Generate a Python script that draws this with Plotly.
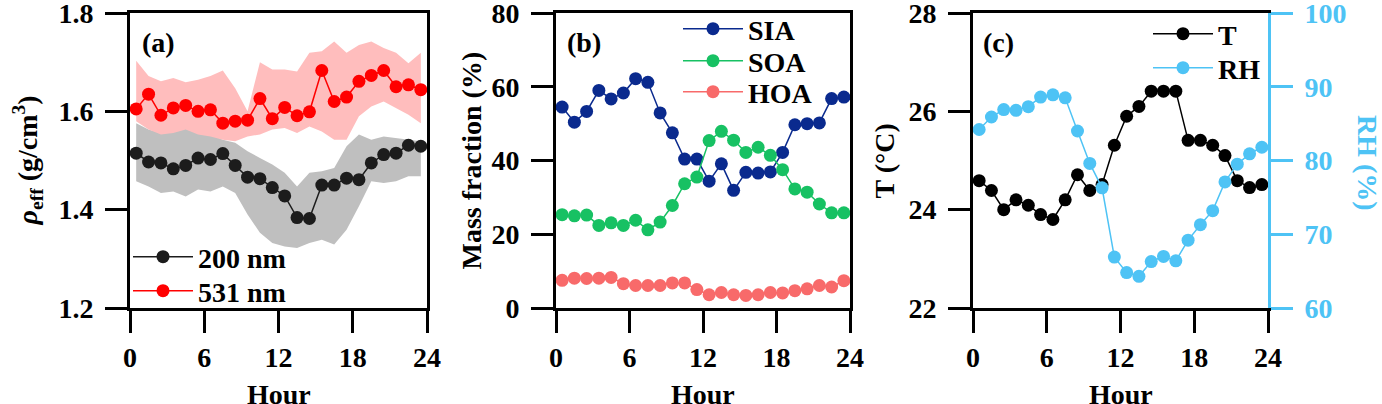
import plotly.graph_objects as go

# ---------------- data ----------------
hours = [0.5, 1.5, 2.5, 3.5, 4.5, 5.5, 6.5, 7.5, 8.5, 9.5, 10.5, 11.5,
         12.5, 13.5, 14.5, 15.5, 16.5, 17.5, 18.5, 19.5, 20.5, 21.5, 22.5, 23.5]
hour_ticks = [0, 6, 12, 18, 24]

rho_200 = [1.515, 1.497, 1.495, 1.483, 1.490, 1.505, 1.502, 1.514, 1.490, 1.466, 1.463, 1.445,
           1.428, 1.384, 1.382, 1.450, 1.450, 1.464, 1.461, 1.495, 1.512, 1.515, 1.531, 1.529]
rho_200_hi = [1.576, 1.563, 1.556, 1.566, 1.573, 1.559, 1.553, 1.542, 1.536, 1.519, 1.505, 1.492,
              1.475, 1.447, 1.475, 1.478, 1.485, 1.529, 1.553, 1.542, 1.549, 1.546, 1.542, 1.539]
rho_200_lo = [1.458, 1.447, 1.434, 1.437, 1.427, 1.441, 1.437, 1.447, 1.434, 1.390, 1.353, 1.332,
              1.325, 1.322, 1.332, 1.339, 1.329, 1.359, 1.407, 1.458, 1.454, 1.458, 1.468, 1.468]

rho_531 = [1.605, 1.635, 1.592, 1.607, 1.612, 1.600, 1.603, 1.576, 1.580, 1.582, 1.626, 1.585,
           1.608, 1.591, 1.599, 1.683, 1.620, 1.629, 1.661, 1.673, 1.683, 1.650, 1.654, 1.644]
rho_531_hi = [1.703, 1.672, 1.661, 1.668, 1.659, 1.664, 1.672, 1.683, 1.647, 1.600, 1.700, 1.685,
              1.685, 1.681, 1.719, 1.722, 1.742, 1.719, 1.735, 1.742, 1.729, 1.719, 1.698, 1.719]
rho_531_lo = [1.580, 1.563, 1.553, 1.556, 1.563, 1.553, 1.549, 1.542, 1.539, 1.549, 1.553, 1.563,
              1.566, 1.556, 1.569, 1.559, 1.542, 1.542, 1.590, 1.610, 1.620, 1.607, 1.593, 1.576]

sia = [54.5, 50.4, 53.3, 59.0, 56.7, 58.3, 62.2, 61.2, 52.9, 47.5, 40.4, 40.4,
       34.4, 39.1, 31.9, 36.8, 36.6, 36.9, 42.2, 49.7, 50.0, 50.2, 56.8, 57.2]
soa = [25.3, 25.0, 25.2, 22.4, 23.1, 22.4, 23.8, 21.2, 23.3, 27.8, 33.7, 35.5,
       45.4, 47.9, 45.5, 42.2, 43.6, 41.4, 37.5, 32.3, 31.4, 28.2, 25.8, 25.8]
hoa = [7.5, 8.1, 8.0, 8.1, 8.3, 6.6, 6.1, 6.1, 6.1, 6.8, 6.8, 5.0,
       3.6, 4.2, 3.6, 3.4, 3.6, 4.2, 4.1, 4.7, 5.2, 6.1, 5.7, 7.4]

temp = [24.59, 24.39, 24.00, 24.20, 24.09, 23.90, 23.80, 24.20, 24.71, 24.39, 24.51, 25.31,
        25.90, 26.10, 26.41, 26.41, 26.41, 25.41, 25.41, 25.31, 25.10, 24.59, 24.45, 24.51]
rh = [84.2, 85.9, 86.9, 86.8, 87.3, 88.6, 88.9, 88.5, 84.0, 79.6, 76.3, 66.9,
      64.8, 64.3, 66.3, 67.0, 66.4, 69.2, 71.3, 73.2, 77.1, 79.5, 80.9, 81.8]

# ---------------- style ----------------
W, H = 1382, 404
FONT = "Liberation Serif"
FS = 28
BLUE_RH = "#4ec3f5"
C_200 = "#1c1c1c"
C_531 = "#ff0000"
C_SIA = "#0a2a8e"
C_SOA = "#17c163"
C_HOA = "#f86a6a"

def px_x(v):
    return v / W

def px_y(v):
    return 1 - v / H

ydom = [px_y(308), px_y(13)]
xdoms = [[px_x(130), px_x(427)], [px_x(556), px_x(850)], [px_x(973), px_x(1268)]]

fig = go.Figure()

MS = 13
LW = 1.5

# panel (a) bands
def band(lo, hi, color):
    fig.add_trace(go.Scatter(x=hours, y=lo, mode="lines", line=dict(width=0, color="rgba(0,0,0,0)"),
                             showlegend=False, hoverinfo="skip", xaxis="x", yaxis="y"))
    fig.add_trace(go.Scatter(x=hours, y=hi, mode="lines", line=dict(width=0, color="rgba(0,0,0,0)"),
                             fill="tonexty", fillcolor=color,
                             showlegend=False, hoverinfo="skip", xaxis="x", yaxis="y"))

band(rho_200_lo, rho_200_hi, "rgb(191,191,191)")
band(rho_531_lo, rho_531_hi, "rgb(255,189,189)")

series = [
    # name, y, color, xaxis, yaxis, legend id
    ("200 nm", rho_200, C_200, "x", "y", "legend"),
    ("531 nm", rho_531, C_531, "x", "y", "legend2"),
    ("SIA", sia, C_SIA, "x2", "y2", "legend3"),
    ("SOA", soa, C_SOA, "x2", "y2", "legend4"),
    ("HOA", hoa, C_HOA, "x2", "y2", "legend5"),
    ("T", temp, "#000000", "x3", "y3", "legend6"),
    ("RH", rh, BLUE_RH, "x3", "y4", "legend7"),
]
for name, vals, col, xa, ya, lg in series:
    fig.add_trace(go.Scatter(x=hours, y=vals, mode="lines+markers", name=name,
                             line=dict(color=col, width=LW), marker=dict(color=col, size=MS),
                             xaxis=xa, yaxis=ya, legend=lg))

tickfont = dict(family=FONT, size=FS, color="black", weight="bold")

def xax(dom, anchor):
    return dict(domain=dom, anchor=anchor, range=[0, 24], tickvals=hour_ticks,
                ticks="outside", ticklen=22, tickwidth=3, tickcolor="black",
                showline=True, linewidth=3, linecolor="black", mirror=True,
                showgrid=False, zeroline=False, tickfont=tickfont, ticklabelstandoff=0,
                ticklabeloverflow="allow", automargin=False)

def yax(anchor, rng, dtick, fmt=None, mirror=True, color="black", side="left", overlaying=None):
    d = dict(domain=ydom, anchor=anchor, range=rng, dtick=dtick, tick0=rng[0],
             ticks="outside", ticklen=22, tickwidth=3, tickcolor=color,
             showline=True, linewidth=3, linecolor=color, mirror=mirror,
             showgrid=False, zeroline=False, side=side, ticklabelstandoff=6,
             ticklabeloverflow="allow", automargin=False,
             tickfont=dict(family=FONT, size=FS, color=color, weight="bold"))
    if fmt:
        d["tickformat"] = fmt
    if overlaying:
        d["overlaying"] = overlaying
        d.pop("domain")
    return d

legfont = dict(family=FONT, size=FS, color="black", weight="bold")

# legend item positions: (marker centre x, item centre y) in pixels
leg_pos = {
    "legend": (162, 257), "legend2": (162, 291),
    "legend3": (712, 29), "legend4": (712, 61), "legend5": (712, 92),
    "legend6": (1182, 34), "legend7": (1182, 68),
}
IW = 60
legends = {}
for key, (mx, my) in leg_pos.items():
    legends[key] = dict(x=px_x(mx - 34), y=px_y(my), xanchor="left", yanchor="middle",
                        bgcolor="rgba(0,0,0,0)", font=legfont, itemwidth=IW,
                        traceorder="normal")

fig.update_layout(
    width=W, height=H, margin=dict(l=0, r=0, t=0, b=0, autoexpand=False),
    paper_bgcolor="white", plot_bgcolor="white",
    xaxis=xax(xdoms[0], "y"),
    yaxis=yax("x", [1.2, 1.8], 0.2, fmt=".1f"),
    xaxis2=xax(xdoms[1], "y2"),
    yaxis2=yax("x2", [0, 80], 20),
    xaxis3=xax(xdoms[2], "y3"),
    yaxis3=yax("x3", [22, 28], 2, mirror=False),
    yaxis4=yax("x3", [60, 100], 10, mirror=False, color=BLUE_RH, side="right", overlaying="y3"),
    showlegend=True,
    **legends,
)

ann = []
def add_ann(text, x, y, angle=0, color="black", xanchor="center", yanchor="middle"):
    ann.append(dict(text=text, x=x, y=y, xref="paper", yref="paper", showarrow=False,
                    textangle=angle, xanchor=xanchor, yanchor=yanchor,
                    font=dict(family=FONT, size=FS, color=color, weight="bold")))

ymid = px_y(160.5)
add_ann("<i>ρ</i><sub>eff</sub> (g/cm<sup>3</sup>)", px_x(28), ymid, angle=-90)
add_ann("Mass fraction (%)", px_x(471), ymid, angle=-90)
add_ann("T (°C)", px_x(884), ymid, angle=-90)
add_ann("RH (%)", px_x(1368), px_y(163), angle=90, color=BLUE_RH)
for dom in xdoms:
    add_ann("Hour", (dom[0] + dom[1]) / 2, px_y(394))
add_ann("(a)", px_x(140), px_y(43), xanchor="left")
add_ann("(b)", px_x(565), px_y(43), xanchor="left")
add_ann("(c)", px_x(981), px_y(43), xanchor="left")
fig.update_layout(annotations=ann)

fig.write_html("out.html", config={"displayModeBar": False},
               post_script="document.body.style.margin='0';document.body.style.overflow='hidden';")
